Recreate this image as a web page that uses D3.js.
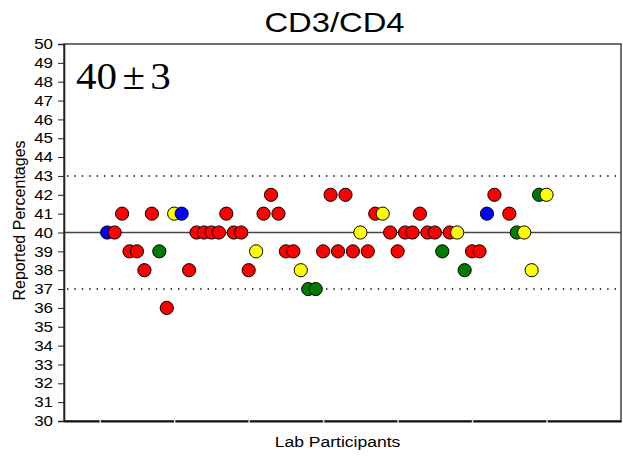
<!DOCTYPE html>
<html>
<head>
<meta charset="utf-8">
<script src="https://cdn.jsdelivr.net/npm/d3@7"></script>
<style>
  body { margin: 0; background: #fff; }
  text { font-family: "Liberation Sans", Arial, sans-serif; fill: #000; }
</style>
</head>
<body>
<div id="chart"></div>
<script>
// participant numbers (no result from #54)
var participants = [1, 2, 3, 4, 5, 6, 7, 8, 9, 10,
    11, 12, 13, 14, 15, 16, 17, 18, 19, 20,
    21, 22, 23, 24, 25, 26, 27, 28, 29, 30,
    31, 32, 33, 34, 35, 36, 37, 38, 39, 40,
    41, 42, 43, 44, 45, 46, 47, 48, 49, 50,
    51, 52, 53, 55, 56, 57, 58, 59, 60]
// reported CD3/CD4 percentage
var values = [40, 40, 41, 39, 39, 38, 41, 39, 36, 41,
    41, 38, 40, 40, 40, 40, 41, 40, 40, 38,
    39, 41, 42, 41, 39, 39, 38, 37, 37, 39,
    42, 39, 42, 39, 40, 39, 41, 41, 40, 39,
    40, 40, 41, 40, 40, 39, 40, 40, 38, 39,
    39, 41, 42, 41, 40, 40, 38, 42, 42]
// marker colour group for each lab
var groups = ['b', 'r', 'r', 'r', 'r', 'r', 'r', 'g', 'r', 'y',
    'b', 'r', 'r', 'r', 'r', 'r', 'r', 'r', 'r', 'r',
    'y', 'r', 'r', 'r', 'r', 'r', 'y', 'g', 'g', 'r',
    'r', 'r', 'r', 'r', 'y', 'r', 'r', 'y', 'r', 'r',
    'r', 'r', 'r', 'r', 'r', 'g', 'r', 'y', 'g', 'r',
    'r', 'b', 'r', 'r', 'g', 'y', 'y', 'g', 'y']
var yTicks = d3.range(30, 51)
var xTicks = [0, 10, 20, 30, 40, 50, 60]
var target = 40, tolerance = 3

var colors = { r: '#ff0000', b: '#0000ff', y: '#ffff00', g: '#007a00' }
var stretch = 1.17   // text in the original is a bit wide

var W = 623, H = 457
var margin = { top: 44, right: 2, bottom: 36, left: 64 }
var width = W - margin.left - margin.right, height = H - margin.top - margin.bottom

var svg = d3.select('#chart').append('svg')
    .attr('width', W)
    .attr('height', H)

var g = svg.append('g')
    .attr('transform', 'translate(' + margin.left + ',' + margin.top + ')')

var x = d3.scaleLinear().domain([-4.8, 70]).range([0, width])
var y = d3.scaleLinear().domain([30, 50]).range([height, 0])

// frame
g.append('rect')
    .attr('width', width)
    .attr('height', height)
    .attr('fill', 'none')
    .attr('stroke', '#111')
    .attr('stroke-width', 1.2)

// target and limits
g.append('line')
    .attr('x1', 0).attr('x2', width)
    .attr('y1', y(target)).attr('y2', y(target))
    .attr('stroke', '#444')
    .attr('stroke-width', 1.4)

;[target - tolerance, target + tolerance].forEach(function (v) {
    g.append('line')
        .attr('x1', 3).attr('x2', width)
        .attr('y1', y(v)).attr('y2', y(v))
        .attr('stroke', '#000')
        .attr('stroke-width', 1.4)
        .attr('stroke-dasharray', '1.4,6')
})

// y axis
var yAxis = g.append('g')
    .call(d3.axisLeft(y).tickValues(yTicks).tickSize(6).tickPadding(5).tickFormat(d3.format('d')))
yAxis.select('.domain').attr('stroke', '#222').attr('stroke-width', 1.6)
yAxis.selectAll('.tick line').attr('stroke', '#222')
yAxis.selectAll('text')
    .style('font-size', '14.5px')
    .attr('font-family', '"Liberation Sans", Arial, sans-serif')
    .attr('fill', '#000')
    .attr('x', -11 / stretch)
    .attr('transform', 'scale(' + stretch + ',1)')

// x axis: line with faint ticks
var xAxis = g.append('g')
    .attr('transform', 'translate(0,' + height + ')')
    .call(d3.axisBottom(x).tickValues(xTicks).tickSize(0).tickFormat(''))
xAxis.select('.domain').attr('stroke', '#111').attr('stroke-width', 1.8)
xAxis.selectAll('.tick').append('line')
    .attr('y1', -2).attr('y2', 2)
    .attr('stroke', '#ddd')
    .attr('stroke-width', 1.5)

// points
g.selectAll('.dot')
    .data(participants)
    .enter()
    .append('circle')
    .attr('class', 'dot')
    .attr('cx', function (d) { return x(d) })
    .attr('cy', function (d, i) { return y(values[i]) })
    .attr('r', 6.6)
    .attr('fill', function (d, i) { return colors[groups[i]] })
    .attr('stroke', '#000')
    .attr('stroke-width', 1)

// texts
function stretchedText(parent, tx, ty, str, size, family) {
    return parent.append('text')
        .attr('transform', 'translate(' + tx + ',' + ty + ') scale(' + stretch + ',1)')
        .style('font-size', size + 'px')
        .style('font-family', family || null)
        .text(str)
}

stretchedText(svg, margin.left + width / 2 - 8, 32, 'CD3/CD4', 28)
    .attr('text-anchor', 'middle')

stretchedText(svg, margin.left + width / 2 - 5, 447, 'Lab Participants', 15)
    .attr('text-anchor', 'middle')

var note = stretchedText(svg, 76, 89, '', 38, '"Liberation Serif", "Times New Roman", serif')
    .attr('transform', 'translate(76,89) scale(1.08,1)')
note.append('tspan').text(target)
note.append('tspan').attr('dx', 5).text('\u00B1')
note.append('tspan').attr('dx', 5).text(tolerance)

svg.append('text')
    .attr('transform', 'translate(25,' + (margin.top + height / 2 - 12) + ') rotate(-90)')
    .attr('text-anchor', 'middle')
    .style('font-size', '16px')
    .text('Reported Percentages')
</script>
</body>
</html>
